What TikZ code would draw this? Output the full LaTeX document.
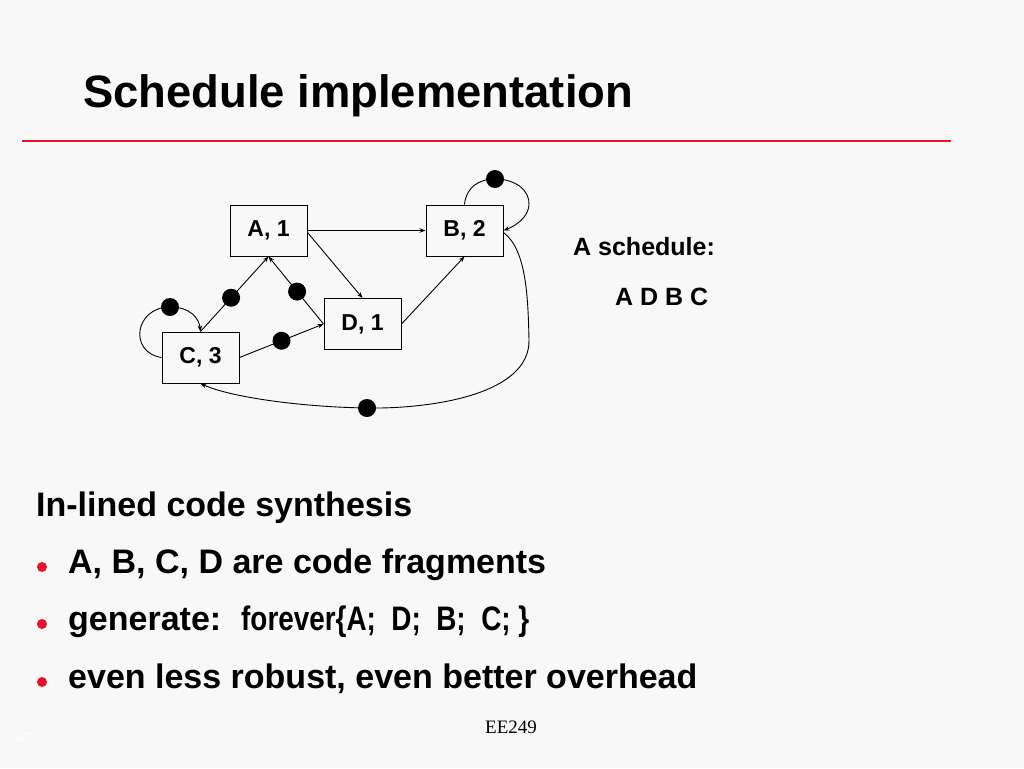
\documentclass[tikz,border=0pt]{standalone}
\usepackage{fontspec}
\setmainfont{Liberation Sans}
\newfontfamily\serifface{Liberation Serif}
\usetikzlibrary{arrows.meta}
\definecolor{slidered}{RGB}{232,17,45}
\definecolor{slidebg}{RGB}{248,248,248}
\begin{document}
\begin{tikzpicture}[x=1pt,y=-1pt,
  box/.style={draw, line width=1pt, minimum width=77pt, minimum height=51pt, inner sep=0pt,
    font=\fontsize{23}{23}\selectfont\bfseries},
  edge/.style={line width=0.9pt, -{Stealth[length=6pt,width=4.5pt]}},
  dot/.style={circle, fill=black, minimum size=18pt, inner sep=0pt},
  txt/.style={anchor=base west, inner sep=0pt},
  bul/.style={circle, fill=slidered, minimum size=10pt, inner sep=0pt}]
\fill[slidebg] (0,0) rectangle (1024,768);
\useasboundingbox (0,0) rectangle (1024,768);
% title
\node[txt, font=\fontsize{45.4}{46}\selectfont\bfseries] (title) at (83,107) {Schedule implementation};
\coordinate (rl) at (22,141);
\coordinate (rr) at (951,141);
\draw[slidered, line width=2pt] (rl) -- (rr);
% boxes
\node[box] (A) at (268.5,230.5) {A, 1};
\node[box] (B) at (464.5,230.5) {B, 2};
\node[box] (D) at (362.5,324) {D, 1};
\node[box] (C) at (200.5,357.5) {C, 3};
% edges
\draw[edge] (A.east) -- (B.west);
\draw[edge] ([yshift=-2pt]A.east) -- (D.north);
\draw[edge] (D.east) -- (B.south);
\draw[edge] (C.north) -- node[dot, pos=0.45] (d1) {} (A.south);
\draw[edge] (D.west) -- node[dot, pos=0.48] (d2) {} (A.south);
\draw[edge] (C.east) -- node[dot, pos=0.5] (d3) {} (D.west);
% self loops
\draw[edge] (C.west) .. controls (128,352) and (135,307) .. (170,307) node[dot] (d4) {}
   .. controls (190,307) and (199,318) .. (C.north);
\draw[edge] (B.north) .. controls (466,188) and (478,179) .. (495,179) node[dot] (d5) {}
   .. controls (515,179) and (530,190) .. (529,205) .. controls (528,218) and (515,226) .. (B.east);
% long edge B -> C
\draw[edge] ([yshift=-2pt]B.east) .. controls (527,250) and (528,300) .. (529,340)
   .. controls (530,395) and (430,409) .. (367,408) node[dot] (d6) {}
   .. controls (300,407) and (230,397) .. (C.south);
% schedule text
\node[txt, font=\fontsize{25}{25}\selectfont\bfseries] (sch) at (573,255) {A schedule:};
\node[txt, font=\fontsize{25}{25}\selectfont\bfseries] (seq) at (615,305) {A D B C};
% body
\node[txt, font=\fontsize{34}{34}\selectfont\bfseries] (h) at (36,516) {In-lined code synthesis};
\node[bul] (b1) at (42,567) {};
\node[bul] (b2) at (42,624) {};
\node[bul] (b3) at (42,682) {};
\node[txt, font=\fontsize{34}{34}\selectfont\bfseries] (l1) at (68,573) {A, B, C, D are code fragments};
\node[txt, font=\fontsize{34}{34}\selectfont\bfseries] (l2) at (68,630) {generate:};
\node[txt, font=\fontsize{34}{34}\selectfont\bfseries] (l2b) at (241,630) {\scalebox{0.82}[1]{forever\{A;\ \ D;\ \ B;\ \ C;\ \}}};
\node[txt, font=\fontsize{34}{34}\selectfont\bfseries] (l3) at (68,688) {even less robust, even better overhead};
% footer
\node[txt, font=\fontsize{19}{19}\selectfont\serifface] (ee) at (485,733) {EE249};
\node[txt, font=\fontsize{14}{14}\selectfont\serifface, text=white] (pg) at (17,742) {47};
\end{tikzpicture}
\end{document}
